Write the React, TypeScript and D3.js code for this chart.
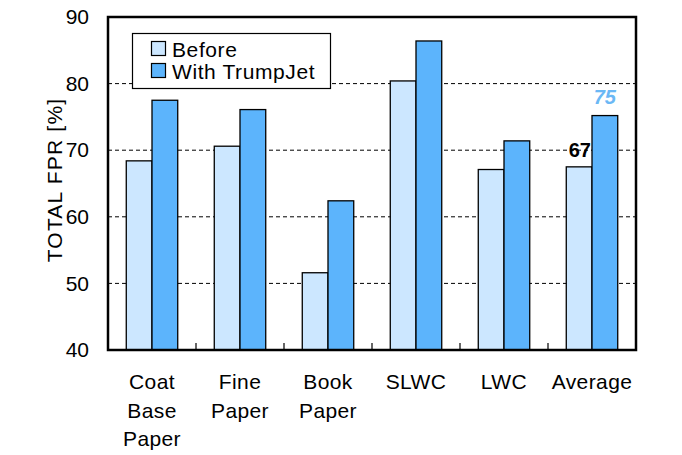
import React, { useEffect, useRef } from 'react';
import * as d3 from 'd3';

const categories = ['Coat\nBase\nPaper', 'Fine\nPaper', 'Book\nPaper', 'SLWC', 'LWC', 'Average'];
const before = [68.4, 70.6, 51.6, 80.4, 67.1, 67.5];
const withTrumpJet = [77.5, 76.1, 62.4, 86.4, 71.4, 75.2];
const yTicks = [40, 50, 60, 70, 80, 90];
const seriesNames = ['Before', 'With TrumpJet'];
const seriesColors = ['#cce7ff', '#5cb4fc'];

export default function App() {
    const svgRef = useRef<SVGSVGElement | null>(null);

    useEffect(() => {
        const width = 682;
        const height = 455;
        const margin = { top: 17, right: 46, bottom: 105, left: 108 };

        const svg = d3.select(svgRef.current)
            .attr('width', width)
            .attr('height', height);
        svg.selectAll('*').remove();

        const font = 'Arial, "Liberation Sans", sans-serif';
        const fs = 21;

        const x = d3.scaleBand<number>()
            .domain(d3.range(categories.length))
            .range([margin.left, width - margin.right]);
        const x1 = d3.scaleBand<number>()
            .domain([0, 1])
            .range([0, x.bandwidth()])
            .paddingOuter(0.71)
            .paddingInner(0);
        const y = d3.scaleLinear()
            .domain([40, 90])
            .range([height - margin.bottom, margin.top]);

        // gridlines
        svg.append('g')
            .selectAll('line')
            .data(yTicks.filter((t) => t > 40 && t < 90))
            .enter()
            .append('line')
            .attr('x1', margin.left)
            .attr('x2', width - margin.right)
            .attr('y1', (d) => y(d))
            .attr('y2', (d) => y(d))
            .attr('stroke', '#000')
            .attr('stroke-width', 1)
            .attr('stroke-dasharray', '4,3');

        // bars
        const series = [before, withTrumpJet];
        series.forEach((vals, si) => {
            svg.append('g')
                .selectAll('rect')
                .data(vals)
                .enter()
                .append('rect')
                .attr('x', (_d, i) => (x(i) ?? 0) + (x1(si) ?? 0))
                .attr('y', (d) => y(d))
                .attr('width', x1.bandwidth())
                .attr('height', (d) => y(40) - y(d))
                .attr('fill', seriesColors[si])
                .attr('stroke', '#000')
                .attr('stroke-width', 1.3);
        });

        // value labels for Average
        const last = categories.length - 1;
        svg.append('text')
            .attr('x', (x(last) ?? 0) + (x1(0) ?? 0) + x1.bandwidth() - 1)
            .attr('y', y(before[last]) - 10)
            .attr('text-anchor', 'end')
            .attr('font-family', font)
            .attr('font-size', 20)
            .attr('font-weight', 'bold')
            .attr('fill', '#000')
            .text('67');
        svg.append('text')
            .attr('x', (x(last) ?? 0) + (x1(1) ?? 0) + x1.bandwidth() / 2)
            .attr('y', y(withTrumpJet[last]) - 12)
            .attr('text-anchor', 'middle')
            .attr('font-family', font)
            .attr('font-size', 20)
            .attr('font-weight', 'bold')
            .attr('font-style', 'italic')
            .attr('fill', '#6bb8f5')
            .text('75');

        // y axis
        const yAxis = d3.axisLeft(y).tickValues(yTicks).tickSize(0).tickPadding(19);
        const gy = svg.append('g')
            .attr('transform', `translate(${margin.left},0)`)
            .call(yAxis);
        gy.select('.domain').remove();
        gy.selectAll('text')
            .attr('font-family', font)
            .attr('font-size', fs)
            .attr('fill', '#000');

        // x category ticks (inside, at boundaries)
        svg.append('g')
            .selectAll('line')
            .data(d3.range(1, categories.length))
            .enter()
            .append('line')
            .attr('x1', (i) => x(i) ?? 0)
            .attr('x2', (i) => x(i) ?? 0)
            .attr('y1', y(40))
            .attr('y2', y(40) - 7)
            .attr('stroke', '#000')
            .attr('stroke-width', 1.2);

        // x labels
        const xl = svg.append('g');
        categories.forEach((c, i) => {
            const t = xl.append('text')
                .attr('x', (x(i) ?? 0) + x.bandwidth() / 2)
                .attr('y', 389)
                .attr('text-anchor', 'middle')
                .attr('font-family', font)
                .attr('font-size', fs)
                .attr('letter-spacing', 0.4)
                .attr('fill', '#000');
            c.split('\n').forEach((line, li) => {
                t.append('tspan')
                    .attr('x', (x(i) ?? 0) + x.bandwidth() / 2)
                    .attr('dy', li === 0 ? 0 : 28.5)
                    .text(line);
            });
        });

        // frame
        svg.append('rect')
            .attr('x', margin.left)
            .attr('y', margin.top)
            .attr('width', width - margin.left - margin.right)
            .attr('height', height - margin.top - margin.bottom)
            .attr('fill', 'none')
            .attr('stroke', '#000')
            .attr('stroke-width', 2.5);

        // y label
        svg.append('text')
            .attr('transform', `translate(62,180) rotate(-90)`)
            .attr('text-anchor', 'middle')
            .attr('font-family', font)
            .attr('font-size', fs)
            .attr('letter-spacing', 1.2)
            .attr('fill', '#000')
            .text('TOTAL FPR [%]');

        // legend
        const lg = svg.append('g');
        lg.append('rect')
            .attr('x', 132.5)
            .attr('y', 33.5)
            .attr('width', 198)
            .attr('height', 55)
            .attr('fill', '#fff')
            .attr('stroke', '#000')
            .attr('stroke-width', 1.2);
        seriesNames.forEach((name, i) => {
            lg.append('rect')
                .attr('x', 151.5)
                .attr('y', 41.5 + i * 22)
                .attr('width', 14)
                .attr('height', 14)
                .attr('fill', seriesColors[i])
                .attr('stroke', '#000')
                .attr('stroke-width', 1.2);
            lg.append('text')
                .attr('x', 172)
                .attr('y', 56.5 + i * 22)
                .attr('font-family', font)
                .attr('font-size', fs)
                .attr('letter-spacing', 0.6)
                .attr('fill', '#000')
                .text(name);
        });
    }, []);

    return <svg ref={svgRef} style={{ position: 'absolute', left: 0, top: 0 }}></svg>;
}
